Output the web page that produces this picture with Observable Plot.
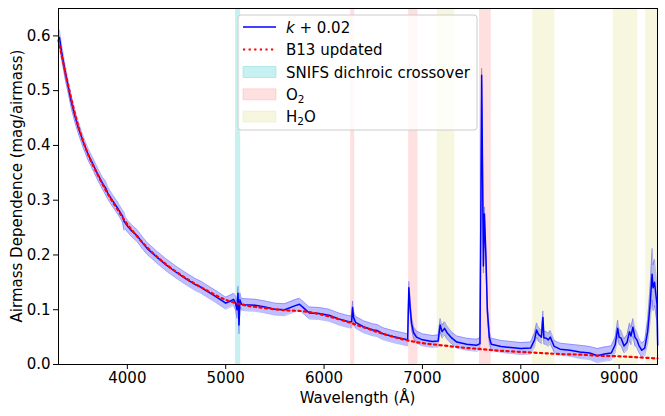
<!DOCTYPE html>
<html>
<head>
<meta charset="utf-8">
<script src="https://cdn.jsdelivr.net/npm/d3@7"></script>
<script src="https://cdn.jsdelivr.net/npm/@observablehq/plot@0.6"></script>
<style>
  html, body { margin: 0; padding: 0; background: #fff; }
  #chart { width: 665px; height: 416px; }
</style>
</head>
<body>
<div id="chart"></div>
<script>
// ---- data ----
const wavelength = [3310,3330,3350,3370,3400,3430,3460,3500,3550,3600,3650,3700,3750,3780,3800,3850,3900,3950,3965,3980,
  4000,4050,4100,4150,4200,4300,4400,4500,4600,4700,4750,4800,4900,4950,5000,5050,5080,5100,5115,5125,5135,5145,5160,
  5200,5300,5400,5500,5600,5700,5750,5800,5850,5950,6050,6150,6250,6280,6290,6300,6320,6400,6500,6540,6560,6600,6700,
  6800,6850,6862,6875,6890,6910,6940,7000,7100,7160,7180,7200,7225,7250,7300,7350,7450,7550,7585,7595,7602,7610,7620,
  7630,7645,7660,7680,7700,7800,7900,8000,8100,8140,8160,8180,8210,8225,8235,8260,8280,8300,8340,8400,8500,8600,8700,
  8780,8850,8920,8960,8985,9000,9020,9050,9080,9105,9120,9140,9160,9180,9200,9230,9260,9290,9315,9335,9345,9360,9375,9385,9392];
const kPlus = [.597,.572,.552,.532,.506,.480,.458,.433,.407,.384,.366,.347,.330,.322,.313,.299,.286,.271,.262,.258,
  .253,.243,.235,.223,.212,.196,.181,.168,.156,.145,.141,.135,.124,.118,.112,.116,.119,.112,.100,.130,.072,.118,.110,
  .109,.108,.105,.101,.100,.107,.110,.102,.094,.093,.090,.083,.078,.078,.104,.086,.077,.069,.063,.062,.060,.056,.051,
  .047,.045,.140,.105,.075,.058,.050,.045,.042,.043,.072,.060,.066,.058,.048,.041,.037,.035,.038,.300,.528,.380,.180,
  .275,.200,.100,.050,.037,.033,.031,.029,.030,.045,.063,.055,.050,.086,.049,.048,.045,.050,.033,.028,.026,.023,.021,
  .016,.019,.021,.036,.066,.050,.048,.034,.040,.060,.052,.068,.050,.045,.035,.026,.030,.060,.110,.165,.140,.150,.125,.110,.035];
const kErr = [.014,.014,.013,.013,.012,.012,.012,.011,.011,.011,.011,.011,.011,.013,.011,.011,.011,.011,.017,.011,
  .011,.011,.011,.011,.011,.011,.011,.011,.011,.011,.011,.011,.011,.011,.011,.011,.011,.013,.016,.013,.016,.013,.011,
  .011,.011,.011,.011,.011,.011,.011,.011,.011,.011,.011,.011,.011,.011,.012,.011,.011,.011,.011,.011,.011,.011,.011,
  .011,.011,.012,.012,.011,.011,.011,.011,.011,.011,.012,.012,.012,.012,.011,.011,.011,.011,.011,.012,.013,.013,.013,
  .013,.012,.012,.011,.011,.011,.011,.011,.011,.013,.013,.013,.012,.012,.012,.012,.012,.012,.011,.011,.011,.012,.012,
  .013,.013,.013,.014,.015,.014,.014,.013,.014,.016,.016,.016,.016,.014,.013,.013,.014,.022,.032,.047,.042,.042,.037,.032,.022];

const b13Wavelength = [3300,3400,3500,3600,3700,3800,3900,4000,4200,4400,4600,4800,5000,5200,5400,5600,5800,6000,6200,
  6400,6600,6800,7000,7200,7400,7600,7800,8000,8200,8400,8600,8800,9000,9200,9390];
const b13Values = [.592,.508,.436,.384,.346,.312,.283,.256,.214,.182,.157,.136,.118,.108,.103,.099,.097,.090,.080,
  .068,.056,.046,.039,.035,.031,.028,.025,.023,.021,.019,.018,.016,.015,.013,.011];

const bandStart = [5100, 6270, 6860, 7580, 7150, 8120, 8940, 9270];
const bandEnd   = [5152, 6312, 6956, 7700, 7330, 8348, 9190, 9400];
const bandType  = ["SNIFS", "O2", "O2", "O2", "H2O", "H2O", "H2O", "H2O"];

const xTicks = [4000, 5000, 6000, 7000, 8000, 9000];
const yTicks = [0, 0.1, 0.2, 0.3, 0.4, 0.5, 0.6];

// ---- derived tables ----
const spectrum = wavelength.map((w, i) => ({w, k: kPlus[i], lo: kPlus[i] - kErr[i], hi: kPlus[i] + kErr[i]}));
const b13 = b13Wavelength.map((w, i) => ({w, v: b13Values[i]}));
const bandFill = {SNIFS: "#00bfbf", O2: "#ff0000", H2O: "#bfbf00"};
const bandAlpha = {SNIFS: 0.22, O2: 0.12, H2O: 0.12};
const bands = bandStart.map((s, i) => ({x1: s, x2: bandEnd[i], t: bandType[i]}));

const W = 665, H = 416, mL = 58, mR = 8, mT = 8, mB = 52;
const font = "DejaVu Sans";
const fs = 15;
const dotted = "2.2,3.4";

const chart = Plot.plot({
  width: W, height: H,
  marginLeft: mL, marginRight: mR, marginTop: mT, marginBottom: mB,
  style: {fontFamily: font, fontSize: fs + "px", color: "#000", background: "#fff"},
  x: {domain: [3300, 9390], ticks: xTicks, tickFormat: d3.format("d"), label: null, tickSize: 5, tickPadding: 3},
  y: {domain: [0, 0.65], ticks: yTicks, tickFormat: d3.format(".1f"), label: null, tickSize: 5, tickPadding: 3},
  marks: [
    Plot.rect(bands, {x1: "x1", x2: "x2", fill: d => bandFill[d.t], fillOpacity: d => bandAlpha[d.t]}),
    Plot.areaY(spectrum, {x: "w", y1: "lo", y2: "hi", fill: "#0000ff", fillOpacity: 0.25}),
    Plot.line(spectrum, {x: "w", y: "lo", stroke: "#0000ff", strokeOpacity: 0.25, strokeWidth: 1}),
    Plot.line(spectrum, {x: "w", y: "hi", stroke: "#0000ff", strokeOpacity: 0.25, strokeWidth: 1}),
    Plot.line(spectrum, {x: "w", y: "k", stroke: "#0000ff", strokeWidth: 1.5}),
    Plot.line(b13, {x: "w", y: "v", stroke: "#ff0000", strokeWidth: 2.2, strokeDasharray: dotted, curve: "catmull-rom"}),
    Plot.axisX({ticks: xTicks, tickFormat: d3.format("d"), label: null, tickSize: 5, tickPadding: 3}),
    Plot.axisY({ticks: yTicks, tickFormat: d3.format(".1f"), label: null, tickSize: 5, tickPadding: 3}),
    Plot.frame({stroke: "#000", strokeWidth: 1})
  ]
});
document.getElementById("chart").appendChild(chart);

// ---- axis titles and legend ----
const svg = d3.select(chart);
svg.append("text").attr("x", mL + (W - mL - mR) / 2).attr("y", 403)
  .attr("text-anchor", "middle").attr("font-family", font).attr("font-size", fs).attr("fill", "#000")
  .text("Wavelength (Å)");
svg.append("text").attr("transform", `translate(22,${mT + (H - mT - mB) / 2}) rotate(-90)`)
  .attr("text-anchor", "middle").attr("font-family", font).attr("font-size", fs).attr("fill", "#000")
  .text("Airmass Dependence (mag/airmass)");

const lg = svg.append("g").attr("text-anchor", "start");
lg.append("rect").attr("x", 238).attr("y", 15).attr("width", 239).attr("height", 115).attr("rx", 3)
  .attr("fill", "#fff").attr("fill-opacity", 0.8).attr("stroke", "#cccccc").attr("stroke-width", 1);
const rowY = [27, 49.5, 72, 94.3, 116.5];
const hx1 = 243, hx2 = 276, tx = 286;
lg.append("line").attr("x1", hx1).attr("x2", hx2).attr("y1", rowY[0]).attr("y2", rowY[0])
  .attr("stroke", "#0000ff").attr("stroke-width", 1.5);
lg.append("line").attr("x1", hx1).attr("x2", hx2).attr("y1", rowY[1]).attr("y2", rowY[1])
  .attr("stroke", "#ff0000").attr("stroke-width", 2.2).attr("stroke-dasharray", dotted);
["SNIFS", "O2", "H2O"].forEach((t, i) => {
  lg.append("rect").attr("x", hx1).attr("y", rowY[i + 2] - 5.5).attr("width", hx2 - hx1).attr("height", 11)
    .attr("fill", bandFill[t]).attr("fill-opacity", bandAlpha[t])
    .attr("stroke", bandFill[t]).attr("stroke-opacity", bandAlpha[t]);
});
const txt = (i) => lg.append("text").attr("x", tx).attr("y", rowY[i] + 5.5).attr("font-family", font)
  .attr("font-size", fs).attr("fill", "#000").attr("text-anchor", "start");
const t0 = txt(0);
t0.append("tspan").attr("font-style", "italic").text("k");
t0.append("tspan").text(" + 0.02");
txt(1).text("B13 updated");
txt(2).text("SNIFS dichroic crossover");
const t3 = txt(3);
t3.append("tspan").text("O");
t3.append("tspan").attr("font-size", 10.5).attr("dy", 3).text("2");
const t4 = txt(4);
t4.append("tspan").text("H");
t4.append("tspan").attr("font-size", 10.5).attr("dy", 3).text("2");
t4.append("tspan").attr("dy", -3).text("O");
</script>
</body>
</html>
